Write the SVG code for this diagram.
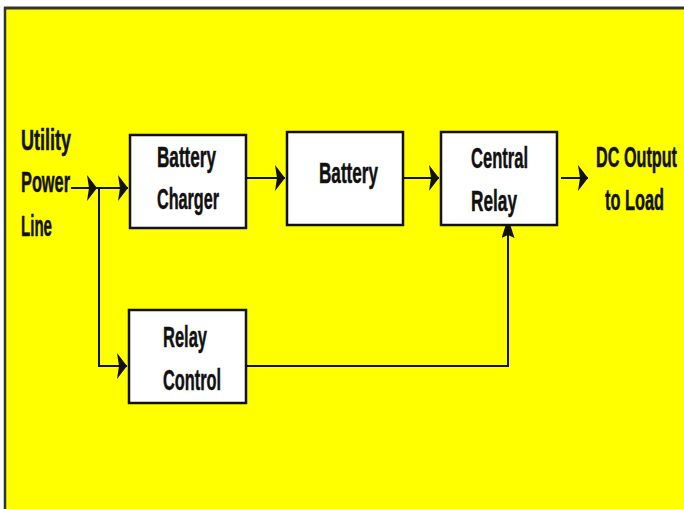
<svg xmlns="http://www.w3.org/2000/svg" width="684" height="509" viewBox="0 0 684 509">
<style>
.box{fill:#fff;stroke:#111;stroke-width:2.5}
.t{font-family:"Liberation Sans",Arial,sans-serif;font-weight:bold;font-size:29px;fill:#111;stroke:#111;stroke-width:0.5}
.ln{fill:none;stroke:#111;stroke-width:2}
</style>
<defs>
<marker id="ah" markerWidth="11" markerHeight="26" refX="10" refY="13" orient="auto" markerUnits="userSpaceOnUse">
<path d="M0,0 L10,13 L0,26 L2,13 Z" fill="#111"/>
</marker>
<marker id="av" markerWidth="20" markerHeight="13" refX="10" refY="6.5" orient="auto" markerUnits="userSpaceOnUse">
<path d="M0,0 L20,6.5 L0,13 L3,6.5 Z" fill="#111"/>
</marker>
</defs>
<rect x="0" y="0" width="684" height="509" fill="#fff"/>
<rect x="5" y="8" width="679" height="501" fill="#ffff00"/>
<line x1="4" y1="8" x2="684" y2="8" stroke="#333" stroke-width="3"/>
<line x1="5" y1="7" x2="5" y2="509" stroke="#333" stroke-width="2.5"/>

<g id="input-label">
<text class="t" x="21" y="150" textLength="50" lengthAdjust="spacingAndGlyphs">Utility</text>
<text class="t" x="21" y="192" textLength="49" lengthAdjust="spacingAndGlyphs">Power</text>
<text class="t" x="21" y="236" textLength="31" lengthAdjust="spacingAndGlyphs">Line</text>
</g>
<g id="output-label">
<text class="t" x="596" y="167" textLength="81" lengthAdjust="spacingAndGlyphs">DC Output</text>
<text class="t" x="605" y="210" textLength="59" lengthAdjust="spacingAndGlyphs">to Load</text>
</g>

<g id="connectors">
<path class="ln" d="M71,188 L97,188" marker-end="url(#ah)"/>
<path class="ln" d="M97,188 L128,188" marker-end="url(#ah)"/>
<path class="ln" d="M99,188 L99,366 L127,366" marker-end="url(#ah)"/>
<path class="ln" d="M246,178 L285,178" marker-end="url(#ah)"/>
<path class="ln" d="M403,178 L439,178" marker-end="url(#ah)"/>
<path class="ln" d="M561,178 L588,178" marker-end="url(#ah)"/>
<path class="ln" d="M246,366 L508,366 L508,228" marker-end="url(#av)"/>
</g>

<g id="battery-charger">
<rect class="box" x="130" y="135" width="116" height="93"/>
<text class="t" x="157" y="167" textLength="59" lengthAdjust="spacingAndGlyphs">Battery</text>
<text class="t" x="157" y="209" textLength="62" lengthAdjust="spacingAndGlyphs">Charger</text>
</g>
<g id="battery">
<rect class="box" x="287" y="132" width="116" height="93"/>
<text class="t" x="319" y="183" textLength="59" lengthAdjust="spacingAndGlyphs">Battery</text>
</g>
<g id="central-relay">
<rect class="box" x="441" y="132" width="116" height="93"/>
<text class="t" x="471" y="168" textLength="57" lengthAdjust="spacingAndGlyphs">Central</text>
<text class="t" x="471" y="211" textLength="46" lengthAdjust="spacingAndGlyphs">Relay</text>
</g>
<g id="relay-control">
<rect class="box" x="129" y="310" width="117" height="93"/>
<text class="t" x="163" y="347" textLength="44" lengthAdjust="spacingAndGlyphs">Relay</text>
<text class="t" x="163" y="390" textLength="58" lengthAdjust="spacingAndGlyphs">Control</text>
</g>
</svg>
